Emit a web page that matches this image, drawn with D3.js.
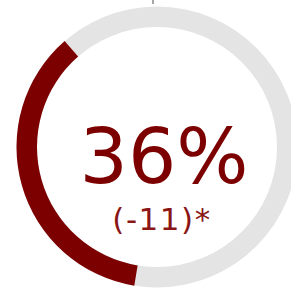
<!DOCTYPE html>
<html>
<head>
<meta charset="utf-8">
<script src="https://cdn.jsdelivr.net/npm/d3@7"></script>
<style>
  body { margin: 0; background: white; }
  svg { display: block; }
</style>
</head>
<body>
<div class="gauge"></div>
<script>
// gauge values
const value = [36];
const total = [100];
const change = ['(-11)*'];
const labels = ['36%'];

const width = 291;
const height = 289;

const svg = d3.select('.gauge')
  .append('svg')
  .attr('width', width)
  .attr('height', height);

const g = svg.append('g').attr('transform', 'translate(157,147)');

// arc runs clockwise from lower-left up to upper-left
const angle = d3.scaleLinear()
  .domain([0, total[0]])
  .range([189.3 * Math.PI / 180, (189.3 + 360) * Math.PI / 180]);

const ring = d3.arc().innerRadius(120).outerRadius(140.5);

g.append('path')
  .attr('d', ring({ startAngle: 0, endAngle: 2 * Math.PI }))
  .attr('fill', '#e4e4e4');

g.append('path')
  .attr('d', ring({ startAngle: angle(0), endAngle: angle(value[0]) }))
  .attr('fill', '#7d0000');

// small marker at the top
svg.append('line')
  .attr('x1', 153).attr('x2', 153)
  .attr('y1', 0).attr('y2', 4)
  .attr('stroke', '#888')
  .attr('stroke-width', 1.5);

svg.append('text')
  .attr('x', 164)
  .attr('y', 183)
  .attr('text-anchor', 'middle')
  .style('font-family', 'DejaVu Sans, Verdana, sans-serif')
  .style('font-size', '76px')
  .style('fill', '#7d0000')
  .text(labels[0]);

svg.append('text')
  .attr('x', 162)
  .attr('y', 230)
  .attr('text-anchor', 'middle')
  .style('font-family', 'DejaVu Sans, Verdana, sans-serif')
  .style('font-size', '31px')
  .style('letter-spacing', '1.5px')
  .style('fill', '#8a1616')
  .text(change[0]);
</script>
</body>
</html>
